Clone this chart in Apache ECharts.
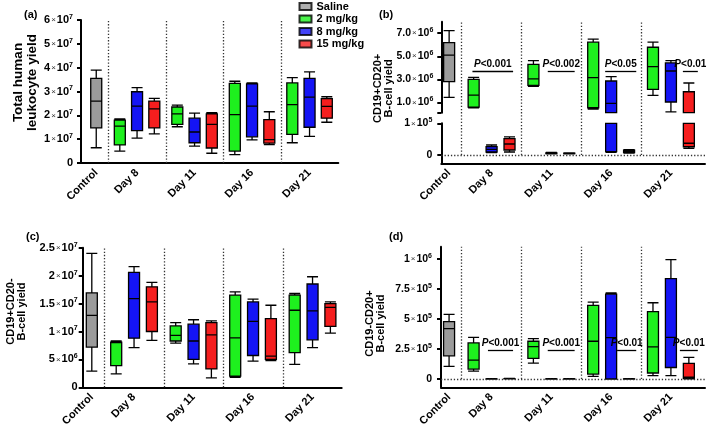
<!DOCTYPE html>
<html><head><meta charset="utf-8">
<script src="https://cdn.jsdelivr.net/npm/echarts@6/dist/echarts.min.js"></script>
<style>html,body{margin:0;padding:0;background:#fff}#c{width:709px;height:429px}</style>
</head><body><div id="c"></div>
<script>
// ---------------- DATA ----------------
const categories = ['Control', 'Day 8', 'Day 11', 'Day 16', 'Day 21'];
const doses = ['Saline', '2 mg/kg', '8 mg/kg', '15 mg/kg'];
// each box: [min, Q1, median, Q3, max]; day arrays ordered Day 8, 11, 16, 21
// (a) Total human leukocyte yield
const aSaline = [[0.64e7, 1.47e7, 2.60e7, 3.55e7, 3.90e7]];
const a2mg = [[0.50e7, 0.76e7, 1.55e7, 1.80e7, 1.85e7], [1.52e7, 1.62e7, 2.06e7, 2.35e7, 2.43e7], [0.35e7, 0.50e7, 2.03e7, 3.34e7, 3.43e7], [0.85e7, 1.20e7, 2.45e7, 3.36e7, 3.58e7]];
const a8mg = [[1.04e7, 1.36e7, 2.39e7, 2.99e7, 3.16e7], [0.71e7, 0.85e7, 1.30e7, 1.88e7, 2.09e7], [0.97e7, 1.10e7, 2.39e7, 3.32e7, 3.36e7], [1.12e7, 1.50e7, 2.76e7, 3.55e7, 3.82e7]];
const a15mg = [[1.22e7, 1.47e7, 2.27e7, 2.60e7, 2.71e7], [0.41e7, 0.63e7, 1.62e7, 2.06e7, 2.11e7], [0.77e7, 0.83e7, 0.98e7, 1.82e7, 2.15e7], [1.71e7, 1.88e7, 2.38e7, 2.70e7, 2.78e7]];
// (b) CD19+CD20+ B-cell yield
const bSaline = [[1.43e6, 2.79e6, 5.09e6, 6.18e6, 7.23e6]];
const b2mg = [[0.53e6, 0.58e6, 1.63e6, 3.00e6, 3.17e6], [2.39e6, 2.48e6, 3.03e6, 4.30e6, 4.62e6], [0.42e6, 0.53e6, 3.14e6, 6.22e6, 6.48e6], [1.61e6, 2.13e6, 4.10e6, 5.78e6, 6.22e6]];
const b8mg = [[0.73e4, 0.95e4, 1.80e4, 2.63e4, 3.15e4], [0.40e4, 0.45e4, 0.55e4, 0.65e4, 0.80e4], [0.85e4, 1.04e4, 0.91e6, 2.85e6, 3.23e6], [0.18e6, 1.03e6, 3.72e6, 4.42e6, 4.62e6]];
const b15mg = [[0.95e4, 1.58e4, 3.47e4, 5.15e4, 5.70e4], [0.38e4, 0.42e4, 0.50e4, 0.60e4, 0.65e4], [0.60e4, 0.75e4, 1.10e4, 1.55e4, 1.70e4], [2.10e4, 2.60e4, 3.70e4, 1.92e6, 2.68e6]];
// (c) CD19+CD20- B-cell yield
const cSaline = [[0.29e7, 0.72e7, 1.29e7, 1.69e7, 2.40e7]];
const c2mg = [[0.24e7, 0.39e7, 0.80e7, 0.81e7, 0.83e7], [0.79e7, 0.83e7, 0.93e7, 1.10e7, 1.16e7], [0.18e7, 0.20e7, 0.885e7, 1.65e7, 1.71e7], [0.41e7, 0.62e7, 1.38e7, 1.65e7, 1.68e7]];
const c8mg = [[0.71e7, 0.88e7, 1.59e7, 2.06e7, 2.16e7], [0.42e7, 0.50e7, 0.83e7, 1.13e7, 1.21e7], [0.47e7, 0.57e7, 1.18e7, 1.53e7, 1.58e7], [0.71e7, 0.85e7, 1.37e7, 1.85e7, 1.98e7]];
const c15mg = [[0.84e7, 1.00e7, 1.53e7, 1.80e7, 1.88e7], [0.17e7, 0.33e7, 0.94e7, 1.16e7, 1.19e7], [0.48e7, 0.50e7, 0.56e7, 1.23e7, 1.47e7], [0.97e7, 1.09e7, 1.43e7, 1.50e7, 1.53e7]];
// (d) CD19-CD20+ B-cell yield
const dSaline = [[1.05e5, 1.93e5, 4.19e5, 4.77e5, 5.37e5]];
const d2mg = [[0.66e5, 0.83e5, 1.57e5, 3.00e5, 3.47e5], [1.32e5, 1.71e5, 2.70e5, 3.14e5, 3.36e5], [0.22e5, 0.41e5, 3.14e5, 6.12e5, 6.39e5], [0.28e5, 0.50e5, 2.67e5, 5.60e5, 6.34e5]];
const d8mg = [[0, 500, 1000, 2000, 3000], [0, 500, 1000, 1500, 2500], [0, 300, 3.44e5, 7.05e5, 7.17e5], [0.28e5, 0.96e5, 3.47e5, 8.35e5, 9.92e5]];
const d15mg = [[1000, 2000, 3000, 4000, 5000], [0, 500, 1000, 1500, 2500], [0, 500, 1000, 1500, 2500], [1000, 5000, 1.5e4, 1.3e5, 1.8e5]];
// significance labels (Day 8, 11, 16, 21)
const bPvals = ['<0.001', '<0.002', '<0.05', '<0.01'];
const dPvals = ['<0.001', '<0.001', '<0.01', '<0.01'];
const bPlevel = 3.72e6;
const dPlevel = 2.4e5;
// axis ticks
const aTicks = [0, 1e7, 2e7, 3e7, 4e7, 5e7, 6e7];
const bUpperTicks = [1e6, 3e6, 5e6, 7e6];
const bLowerTicks = [0, 1e5];
const cTicks = [0, 5e6, 1e7, 1.5e7, 2e7, 2.5e7];
const dTicks = [0, 2.5e5, 5e5, 7.5e5, 1e6];

// ---------------- STYLE / LAYOUT ----------------
const FONT = "'Liberation Sans', Arial, sans-serif";
const COLORS = ['#9b9b9b', '#1ef01e', '#1414f5', '#f51e1e'];
const CTRL_X = -0.21;
const DOSE_OFF = [0.2, 0.5, 0.8];
const labelVals = [CTRL_X, 0.5, 1.5, 2.5, 3.5];
const bAnnX = [[0.18, 0.86], [0.44, 0.89], [0.40, 0.92], [0.70, 0.95]];
const dAnnX = [[0.44, 0.86], [0.44, 0.89], [0.60, 0.92], [0.65, 0.95]];

function sci(v, dec) {
  if (Math.abs(v) < 1e-9) return '{n|0}';
  const e = Math.floor(Math.log10(v) + 1e-9);
  const m = v / Math.pow(10, e);
  const ms = dec != null ? m.toFixed(dec) : String(+m.toFixed(2));
  return '{n|' + ms + '}{x|×}{n|10}{s|' + e + '}';
}
function yRich(sz) {
  return {
    n: {fontSize: sz, fontWeight: 'bold', fontFamily: FONT, color: '#000', lineHeight: 13},
    x: {fontSize: 8, fontFamily: FONT, color: '#333', lineHeight: 13, padding: [0, 1, 0, 1]},
    s: {fontSize: 7, fontWeight: 'bold', fontFamily: FONT, color: '#000', lineHeight: 8, verticalAlign: 'top'}
  };
}

function buildBoxes(sal, d2, d8, d15, lo, hi) {
  const items = [];
  const push = (x, v, color) => {
    let vals = v.slice();
    if (lo != null) { if (v[4] < lo) return; vals = vals.map(t => Math.max(t, lo)); }
    if (hi != null) { if (v[0] > hi) return; vals = vals.map(t => Math.min(t, hi)); }
    items.push({value: [x].concat(vals), itemStyle: {color: color}});
  };
  push(CTRL_X, sal[0], COLORS[0]);
  [d2, d8, d15].forEach((arr, k) => arr.forEach((v, g) => push(g + DOSE_OFF[k], v, COLORS[k + 1])));
  return items;
}

const grids = [
  {left: 81, top: 20, width: 257.3, height: 143},       // 0 a
  {left: 441.3, top: 21.7, width: 263.7, height: 91},   // 1 b upper
  {left: 441.3, top: 123.3, width: 263.7, height: 40},  // 2 b lower
  {left: 441.3, top: 21.7, width: 263.7, height: 133.3},// 3 b overlay
  {left: 82.7, top: 247.7, width: 259, height: 141.3},  // 4 c
  {left: 441, top: 246.7, width: 264, height: 141.6}    // 5 d
];
const xr = [[-0.475, 4.0], [-0.341, 4.07], [-0.341, 4.07], [-0.341, 4.07], [-0.363, 3.99], [-0.345, 4.07]];
const showX = [true, false, true, false, true, true];

const xAxes = grids.map((g, i) => ({
  type: 'value', gridIndex: i, min: xr[i][0], max: xr[i][1], show: showX[i],
  axisLine: {show: true, onZero: false, lineStyle: {color: '#000', width: 2}},
  axisTick: {show: false}, splitLine: {show: false},
  axisLabel: {
    customValues: labelVals, rotate: 45, margin: 8, fontSize: 11, fontWeight: 'bold', fontFamily: FONT, color: '#000',
    formatter: v => { const k = labelVals.findIndex(t => Math.abs(t - v) < 1e-6); return k >= 0 ? categories[k] : ''; }
  }
}));

function yAxis(i, min, max, ticks, labels, dec, margin, sz, name) {
  const o = {
    type: 'value', gridIndex: i, min: min, max: max,
    axisLine: {show: true, onZero: false, lineStyle: {color: '#000', width: 2}},
    axisTick: {show: true, length: 4, customValues: ticks, lineStyle: {color: '#000', width: 2}},
    splitLine: {show: false},
    axisLabel: {customValues: labels, margin: margin, formatter: v => sci(v, dec), rich: yRich(sz)}
  };
  if (name) Object.assign(o, name);
  return o;
}
function yName(text, size, lh, gap, pad) {
  return {name: text, nameLocation: 'middle', nameGap: gap,
    nameTextStyle: {fontSize: size, fontWeight: 'bold', fontFamily: FONT, color: '#000', lineHeight: lh, padding: pad}};
}
const yAxes = [
  yAxis(0, 0, 6e7, aTicks, aTicks, null, 8, 11, yName('Total human\nleukocyte yield', 13.5, 14, 42, [0, 0, 0, 18])),
  yAxis(1, 1e5, 8e6, [1e5].concat(bUpperTicks), bUpperTicks, 1, 8, 10.5, null),
  yAxis(2, -26200, 1e5, bLowerTicks, bLowerTicks, null, 9, 10.5, null),
  Object.assign({type: 'value', gridIndex: 3, min: 0, max: 1, axisLine: {show: false}, axisTick: {show: false},
    axisLabel: {show: false}, splitLine: {show: false}}, yName('CD19+CD20+\nB-cell yield', 11, 11, 47, [0, 0, 0, 0])),
  yAxis(4, 0, 2.5e7, cTicks, cTicks, null, 5, 11, yName('CD19+CD20-\nB-cell yield', 11, 11, 55, [0, 0, 0, 12])),
  yAxis(5, -69000, 1.1e6, dTicks, dTicks, null, 9, 10.5, yName('CD19-CD20+\nB-cell yield', 11, 11, 55, [0, 13, 0, 0]))
];

function boxSeries(i, data) {
  return {type: 'boxplot', xAxisIndex: i, yAxisIndex: i, data: data, boxWidth: [11, 11], z: 3, silent: true,
    itemStyle: {borderColor: '#000', borderWidth: 1.3}};
}
const DOT = {color: '#333', width: 1.3, type: [1.3, 1.9]};
function lineMarks(i, lines, style, extra) {
  return Object.assign({type: 'line', xAxisIndex: i, yAxisIndex: i, data: [], symbol: 'none', z: 1, silent: true,
    markLine: {silent: true, symbol: 'none', animation: false, label: {show: false}, lineStyle: style, data: lines}}, extra || {});
}
function dividers(y0, y1) {
  return [0, 1, 2, 3].map(x => [{coord: [x, y0]}, {coord: [x, y1]}]);
}
function pMarks(pv, ann, level) {
  return pv.map((p, g) => [{coord: [g + ann[g][0], level], label: {show: true, position: 'middle', distance: 2,
      formatter: '{i|P}{t|' + p + '}',
      rich: {i: {fontSize: 10, fontWeight: 'bold', fontStyle: 'italic', fontFamily: FONT, color: '#000'},
             t: {fontSize: 10, fontWeight: 'bold', fontFamily: FONT, color: '#000'}}}},
    {coord: [g + ann[g][1], level]}]);
}

const series = [
  boxSeries(0, buildBoxes(aSaline, a2mg, a8mg, a15mg)),
  boxSeries(1, buildBoxes(bSaline, b2mg, b8mg, b15mg, 1e5, null)),
  boxSeries(2, buildBoxes(bSaline, b2mg, b8mg, b15mg, null, 1e5)),
  boxSeries(4, buildBoxes(cSaline, c2mg, c8mg, c15mg)),
  boxSeries(5, buildBoxes(dSaline, d2mg, d8mg, d15mg)),
  lineMarks(0, dividers(0, 6e7), DOT),
  lineMarks(3, dividers(0, 1), DOT),
  lineMarks(4, dividers(0, 2.5e7), DOT),
  lineMarks(5, dividers(0, 1.1e6), DOT),
  lineMarks(2, [[{coord: [xr[2][0], 0]}, {coord: [xr[2][1], 0]}]], DOT),
  lineMarks(5, [[{coord: [xr[5][0], 0]}, {coord: [xr[5][1], 0]}]], DOT),
  lineMarks(1, pMarks(bPvals, bAnnX, bPlevel), {color: '#000', width: 1.3, type: 'solid'}, {z: 4}),
  lineMarks(5, pMarks(dPvals, dAnnX, dPlevel), {color: '#000', width: 1.3, type: 'solid'}, {z: 4})
];
doses.forEach((d, k) => series.push({type: 'scatter', name: d, xAxisIndex: 0, yAxisIndex: 0, data: [],
  itemStyle: {color: COLORS[k], borderColor: '#000', borderWidth: 1}}));

const titleStyle = {fontSize: 11, fontWeight: 'bold', fontFamily: FONT, color: '#000'};
const option = {
  animation: false,
  backgroundColor: '#fff',
  title: [
    {text: '(a)', left: 24, top: 9, padding: 0, textStyle: titleStyle},
    {text: '(b)', left: 379, top: 9, padding: 0, textStyle: titleStyle},
    {text: '(c)', left: 26, top: 231, padding: 0, textStyle: titleStyle},
    {text: '(d)', left: 389, top: 231, padding: 0, textStyle: titleStyle}
  ],
  legend: {
    data: doses.map(d => ({name: d, icon: 'rect'})), orient: 'vertical', left: 298.5, top: 0.5, padding: 0,
    itemWidth: 12, itemHeight: 7, itemGap: 0.5, selectedMode: false,
    textStyle: {fontSize: 11, fontWeight: 'bold', fontFamily: FONT, color: '#000', lineHeight: 12}
  },
  grid: grids,
  xAxis: xAxes,
  yAxis: yAxes,
  series: series
};
const chart = echarts.init(document.getElementById('c'), null, {renderer: 'canvas'});
chart.setOption(option);
</script></body></html>
